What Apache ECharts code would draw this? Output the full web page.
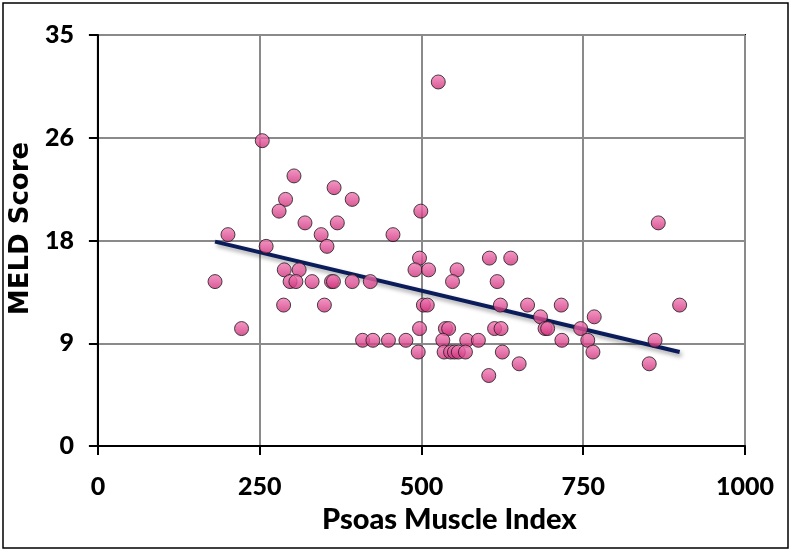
<!DOCTYPE html>
<html>
<head>
<meta charset="utf-8">
<script src="https://cdn.jsdelivr.net/npm/echarts@6/dist/echarts.min.js"></script>
<style>
  html, body { margin: 0; padding: 0; background: #fff; }
  #chart { width: 792px; height: 553px; }
</style>
</head>
<body>
<div id="chart"></div>
<script>
// psoas muscle index (x) vs MELD score (y)
const pmi = [
  526,
  254,
  303,
  365,
  290, 393,
  280, 499,
  320, 370, 866,
  201, 345, 456,
  260, 354,
  497, 605, 638,
  288, 311, 490, 511, 555,
  181, 297, 306, 331, 361, 364, 393, 421, 548, 617,
  287, 350, 503, 509, 622, 664, 716, 899,
  684, 767,
  222, 497, 537, 542, 613, 623, 691, 695, 746,
  409, 425, 449, 476, 533, 570, 588, 717, 757, 861,
  495, 535, 545, 551, 557, 568, 625, 765,
  651, 852,
  604
]
const meld = [
  31,
  26,
  23,
  22,
  21, 21,
  20, 20,
  19, 19, 19,
  18, 18, 18,
  17, 17,
  16, 16, 16,
  15, 15, 15, 15, 15,
  14, 14, 14, 14, 14, 14, 14, 14, 14, 14,
  12, 12, 12, 12, 12, 12, 12, 12,
  11, 11,
  10, 10, 10, 10, 10, 10, 10, 10, 10,
  9, 9, 9, 9, 9, 9, 9, 9, 9, 9,
  8, 8, 8, 8, 8, 8, 8, 8,
  7, 7,
  6
]
// trend line ends
const trendX = [181, 899]
const trendY = [17.4, 8.0]

const chart = echarts.init(document.getElementById('chart'))

const tickFont = { fontFamily: 'Lato', fontWeight: 900, fontSize: 25, color: '#000' }

chart.setOption({
  animation: false,
  backgroundColor: '#fff',
  grid: { left: 97, right: 47, top: 35, bottom: 107, show: true, borderColor: '#000', borderWidth: 2 },
  xAxis: {
    type: 'value',
    min: 0,
    max: 1000,
    interval: 250,
    name: 'Psoas Muscle Index',
    nameLocation: 'middle',
    nameGap: 59,
    nameTextStyle: { fontFamily: 'Lato', fontWeight: 900, fontSize: 29, color: '#000', padding: [0, 0, 0, 56] },
    axisLine: { lineStyle: { color: '#000', width: 2 } },
    axisTick: { show: true, length: 9, lineStyle: { color: '#000', width: 2 } },
    axisLabel: Object.assign({ margin: 28, formatter: v => String(v) }, tickFont),
    splitLine: { lineStyle: { color: '#8a8a8a', width: 2 } }
  },
  yAxis: {
    type: 'value',
    min: 0,
    max: 35,
    interval: 8.75,
    name: 'MELD Score',
    nameLocation: 'middle',
    nameGap: 56,
    nameTextStyle: { fontFamily: 'DejaVu Sans', fontWeight: 'bold', fontSize: 26, color: '#000', padding: [0, 0, 0, 24] },
    axisLine: { lineStyle: { color: '#000', width: 2 } },
    axisTick: { show: true, length: 9, lineStyle: { color: '#000', width: 2 } },
    axisLabel: Object.assign({ margin: 24, formatter: v => String(Math.round(v)) }, tickFont),
    splitLine: { lineStyle: { color: '#8a8a8a', width: 2 } }
  },
  graphic: [{
    type: 'rect',
    shape: { x: 3, y: 3, width: 785, height: 545 },
    style: { fill: 'none', stroke: '#000', lineWidth: 1.5 },
    silent: true
  }],
  series: [
    {
      type: 'line',
      data: trendX.map((x, i) => [x, trendY[i]]),
      showSymbol: false,
      lineStyle: {
        color: '#0a1d5a',
        width: 4,
        shadowColor: 'rgba(0,0,0,0.35)',
        shadowBlur: 4,
        shadowOffsetY: 3,
        shadowOffsetX: 2
      },
      z: 3
    },
    {
      type: 'scatter',
      data: pmi.map((x, i) => [x, meld[i]]),
      symbolSize: 14,
      itemStyle: {
        color: new echarts.graphic.LinearGradient(0, 0, 0, 1, [
          { offset: 0, color: '#f47eb8' },
          { offset: 1, color: '#cc2f78' }
        ]),
        borderColor: '#1a1a1a',
        borderWidth: 1
      },
      z: 4
    }
  ]
})
</script>
</body>
</html>
